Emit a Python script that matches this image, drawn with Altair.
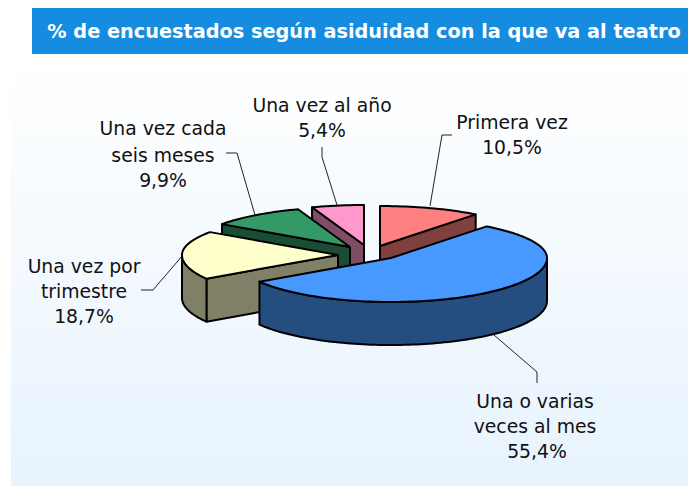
import numpy as np
import pandas as pd
import altair as alt

# --- data
categories = ["Primera vez", "Una o varias veces al mes", "Una vez por trimestre",
              "Una vez cada seis meses", "Una vez al año"]
values = [10.5, 55.4, 18.7, 9.9, 5.4]
top_colors = ["#FF8080", "#4799FF", "#FFFFCC", "#339966", "#FF99CC"]
side_colors = ["#804040", "#244D80", "#808066", "#1A4D33", "#804D66"]
title_text = "% de encuestados según asiduidad con la que va al teatro"

# label lines: (text, x, baseline y)
label_lines = [
    ("Primera vez", 512, 129), ("10,5%", 512, 154),
    ("Una o varias", 535, 408), ("veces al mes", 535, 433), ("55,4%", 537, 458),
    ("Una vez por", 84, 273), ("trimestre", 84, 298), ("18,7%", 84, 323),
    ("Una vez cada", 163, 135), ("seis meses", 163, 162), ("9,9%", 163, 187),
    ("Una vez al año", 322, 112), ("5,4%", 322, 137),
]
leaders = [
    [(430, 206), (442, 135), (452, 135)],
    [(494, 335), (537, 372), (537, 383)],
    [(183, 255), (153, 290), (141, 290)],
    [(255, 215), (237, 153), (226, 153)],
    [(337, 205), (322, 157), (322, 147)],
]

# --- layout of the exploded 3D pie
apex = [(380, 246), (391, 258), (338, 255), (350, 247), (364, 245)]
RX, RY_BACK, RY_FRONT, DEPTH = 156, 40, 44, 43
draw_order = [4, 0, 3, 2, 1]


def rim(a0, a1, ax, ay, n=None):
    n = n or max(2, int(abs(a1 - a0) / np.radians(1.5)))
    t = np.linspace(a0, a1, n)
    c = np.cos(t)
    return np.c_[ax + RX * np.sin(t), ay - np.where(c >= 0, RY_BACK, RY_FRONT) * c]


rows = []
pid_counter = 0


def add(points, color):
    global pid_counter
    closed = list(map(tuple, points)) + [tuple(points[0])]
    for i, p in enumerate(closed):
        rows.append({"pid": pid_counter, "i": i, "x": float(p[0]), "y": float(p[1]), "fill": color})
    pid_counter += 1


total = sum(values)
edges = np.cumsum([0] + values) / total * 2 * np.pi
for k in draw_order:
    a0, a1 = edges[k], edges[k + 1]
    ax, ay = apex[k]
    arc = rim(a0, a1, ax, ay)
    mid = rim((a0 + a1) / 2, (a0 + a1) / 2, ax, ay, 2)[0]
    inner = (np.array([ax, ay]) + mid) / 2
    for corner in (arc[0], arc[-1]):
        dx = corner[0] - ax
        if abs(dx) < 1:
            continue
        line_y = ay + (corner[1] - ay) * (inner[0] - ax) / dx
        if inner[1] < line_y:  # cut face looks towards the viewer
            add([(ax, ay), tuple(corner), (corner[0], corner[1] + DEPTH), (ax, ay + DEPTH)], side_colors[k])
    # outer wall, front half only
    lo, hi = max(a0, np.pi / 2), min(a1, 3 * np.pi / 2)
    if hi > lo:
        wall = rim(lo, hi, ax, ay)
        add(list(map(tuple, wall)) + [(p[0], p[1] + DEPTH) for p in wall[::-1]], side_colors[k])
    add([(ax, ay)] + list(map(tuple, arc)), top_colors[k])

df = pd.DataFrame(rows)

X = alt.Scale(domain=[8, 688], nice=False, zero=False)
Y = alt.Scale(domain=[486, 8], nice=False, zero=False)
xe = lambda f="x": alt.X(f"{f}:Q", scale=X, axis=None)
ye = lambda f="y": alt.Y(f"{f}:Q", scale=Y, axis=None)

bg = alt.Chart(pd.DataFrame({"x": [11], "x2": [688], "y": [54], "y2": [486]})).mark_rect(
    fill=alt.LinearGradient(gradient="linear", x1=0, x2=0, y1=0, y2=1,
                            stops=[alt.GradientStop(color="#FFFFFF", offset=0),
                                   alt.GradientStop(color="#E7F3FD", offset=1)])
).encode(x=xe(), x2="x2:Q", y=ye(), y2="y2:Q")

bar = alt.Chart(pd.DataFrame({"x": [32], "x2": [688], "y": [8], "y2": [54]})).mark_rect(
    color="#168CE0").encode(x=xe(), x2="x2:Q", y=ye(), y2="y2:Q")

title = alt.Chart(pd.DataFrame({"x": [364], "y": [38], "t": [title_text]})).mark_text(
    font="DejaVu Sans", fontWeight="bold", fontSize=19.3, color="white", align="center", baseline="alphabetic"
).encode(x=xe(), y=ye(), text="t:N")

lead_df = pd.DataFrame([{"g": g, "i": i, "x": p[0], "y": p[1]} for g, pts in enumerate(leaders) for i, p in enumerate(pts)])
lead = alt.Chart(lead_df).mark_line(color="#222222", strokeWidth=1).encode(
    x=xe(), y=ye(), detail="g:N", order="i:Q")

pie = alt.Chart(df).mark_line(filled=True, stroke="black", strokeWidth=2, strokeJoin="round").encode(
    x=xe(), y=ye(), detail="pid:N", order="i:Q",
    fill=alt.Fill("fill:N", scale=None))

text_df = pd.DataFrame(label_lines, columns=["t", "x", "y"])
labels = alt.Chart(text_df).mark_text(
    font="DejaVu Sans", fontSize=18.8, color="#111111", align="center", baseline="alphabetic"
).encode(x=xe(), y=ye(), text="t:N")

chart = alt.layer(bg, bar, title, lead, pie, labels).properties(
    width=680, height=478, padding=0, background="white"
).configure_view(strokeWidth=0)

chart.save("out.html", embed_options={"renderer": "svg", "actions": False})
